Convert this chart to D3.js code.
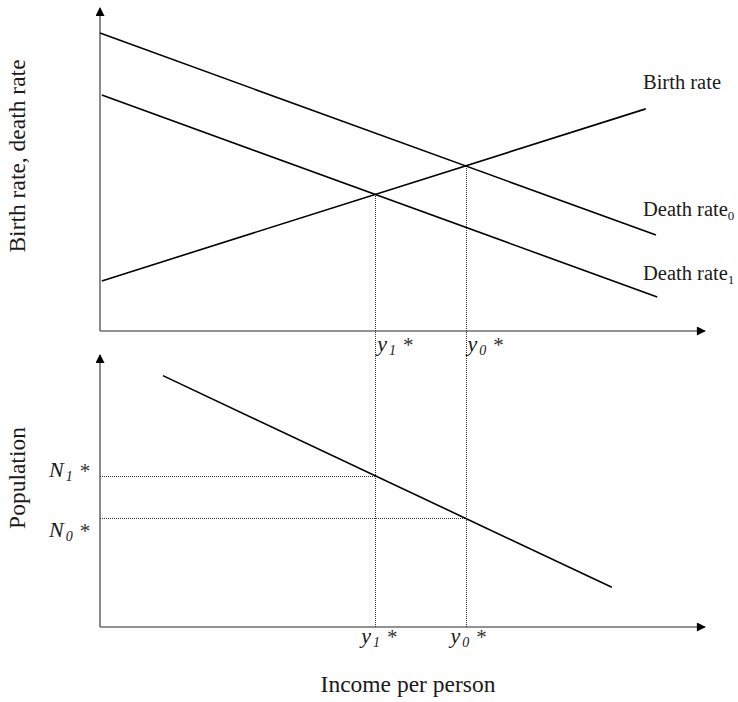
<!DOCTYPE html>
<html>
<head>
<meta charset="utf-8">
<script src="https://cdn.jsdelivr.net/npm/d3@7"></script>
<style>
  body { margin: 0; background: #fff; }
  svg text { font-family: "Liberation Serif", "DejaVu Serif", serif; fill: #1a1a1a; }
</style>
</head>
<body>
<svg id="chart" width="738" height="702"></svg>
<script>
// schematic values (arbitrary units 0-100)
const deathRate0 = [[0, 92.8], [91.9, 29.9]];
const deathRate1 = [[0.3, 73.5], [92.1, 10.6]];
const birthRate = [[0.3, 15.6], [90.2, 69.2]];
const population = [[10.4, 93.1], [84.6, 14.7]];

const lineLabels = [
    { text: "Birth rate", sub: "", line: birthRate, dy: -20 },
    { text: "Death rate", sub: "0", line: deathRate0, dy: -19 },
    { text: "Death rate", sub: "1", line: deathRate1, dy: -17 }
];

const svg = d3.select("#chart");

const x = d3.scaleLinear().domain([0, 100]).range([100, 705]);
const yTop = d3.scaleLinear().domain([0, 100]).range([331, 10]);
const yBot = d3.scaleLinear().domain([0, 100]).range([627, 357]);

// arrow head
svg.append("defs").append("marker")
    .attr("id", "arrow")
    .attr("viewBox", "0 0 10 10")
    .attr("refX", 9)
    .attr("refY", 5)
    .attr("markerUnits", "userSpaceOnUse")
    .attr("markerWidth", 11)
    .attr("markerHeight", 9)
    .attr("orient", "auto")
    .append("path")
    .attr("d", "M0,0L10,5L0,10Z")
    .attr("fill", "#000");

function lineAt(a, b) {
    // intersection of two straight lines given by two points each
    const s1 = (a[1][1] - a[0][1]) / (a[1][0] - a[0][0]);
    const s2 = (b[1][1] - b[0][1]) / (b[1][0] - b[0][0]);
    const c1 = a[0][1] - s1 * a[0][0];
    const c2 = b[0][1] - s2 * b[0][0];
    const xi = (c2 - c1) / (s1 - s2);
    return [xi, s1 * xi + c1];
}
function valueAt(l, xv) {
    const s = (l[1][1] - l[0][1]) / (l[1][0] - l[0][0]);
    return l[0][1] + s * (xv - l[0][0]);
}

const eq0 = lineAt(birthRate, deathRate0);
const eq1 = lineAt(birthRate, deathRate1);
const n0 = valueAt(population, eq0[0]);
const n1 = valueAt(population, eq1[0]);

// axes
function drawAxes(y) {
    svg.append("line")
        .attr("x1", x(0)).attr("y1", y(0))
        .attr("x2", x(100)).attr("y2", y(0))
        .attr("stroke", "#6e6e6e").attr("stroke-width", 1.6)
        .attr("marker-end", "url(#arrow)");
    svg.append("line")
        .attr("x1", x(0)).attr("y1", y(0))
        .attr("x2", x(0)).attr("y2", y(100) - 2)
        .attr("stroke", "#6e6e6e").attr("stroke-width", 1.6)
        .attr("marker-end", "url(#arrow)");
}
drawAxes(yTop);
drawAxes(yBot);

// dotted guides, snapped to the pixel grid so the dots stay crisp
const px = v => Math.round(v) + 0.5;
function guide(x1, y1, x2, y2) {
    svg.append("line")
        .attr("x1", x1).attr("y1", y1).attr("x2", x2).attr("y2", y2)
        .attr("stroke", "#333")
        .attr("stroke-width", 1)
        .attr("stroke-dasharray", "1,1")
        .attr("shape-rendering", "crispEdges");
}
[eq1, eq0].forEach(e => guide(px(x(e[0])), Math.round(yTop(e[1])), px(x(e[0])), Math.round(yBot(0))));
guide(Math.round(x(0)), px(yBot(n1)), Math.round(x(eq1[0])), px(yBot(n1)));
guide(Math.round(x(0)), px(yBot(n0)), Math.round(x(eq0[0])), px(yBot(n0)));

// curves
const lineTop = d3.line().x(d => x(d[0])).y(d => yTop(d[1]));
const lineBot = d3.line().x(d => x(d[0])).y(d => yBot(d[1]));

svg.selectAll(".rate")
    .data([deathRate0, deathRate1, birthRate])
    .enter().append("path")
    .attr("d", lineTop)
    .attr("fill", "none")
    .attr("stroke", "#000")
    .attr("stroke-width", 1.6);

svg.append("path")
    .attr("d", lineBot(population))
    .attr("fill", "none")
    .attr("stroke", "#000")
    .attr("stroke-width", 1.6);

// line labels
lineLabels.forEach(d => {
    const t = svg.append("text")
        .attr("x", 643)
        .attr("y", yTop(d.line[1][1]) + d.dy)
        .style("font-size", "20.5px")
        .text(d.text);
    if (d.sub) {
        t.append("tspan").attr("dy", 4).style("font-size", "13px").text(d.sub);
    }
});

// starred labels (italic with subscript)
function starLabel(xp, yp, base, sub, size) {
    const t = svg.append("text")
        .attr("x", xp).attr("y", yp)
        .style("font-style", "italic")
        .style("font-size", size + "px");
    t.append("tspan").text(base);
    t.append("tspan").attr("dx", 2).attr("dy", 4).style("font-size", "14px").text(sub);
    t.append("tspan").attr("dx", 7).attr("dy", -3).style("font-size", "21px")
        .style("font-style", "normal").style("fill", "#333").text("*");
}
starLabel(x(eq1[0]) + 2, yTop(0) + 20, "y", "1", 22);
starLabel(x(eq0[0]) + 2, yTop(0) + 20, "y", "0", 22);
starLabel(x(eq1[0]) - 14, yBot(0) + 16, "y", "1", 22);
starLabel(x(eq0[0]) - 15, yBot(0) + 16, "y", "0", 22);
starLabel(49, yBot(n1) + 1, "N", "1", 22);
starLabel(49, yBot(n0) + 19, "N", "0", 22);

// axis titles
svg.append("text")
    .attr("transform", "translate(25," + 156 + ") rotate(-90)")
    .attr("text-anchor", "middle")
    .style("font-size", "23.5px")
    .text("Birth rate, death rate");

svg.append("text")
    .attr("transform", "translate(25," + 478 + ") rotate(-90)")
    .attr("text-anchor", "middle")
    .style("font-size", "23.5px")
    .text("Population");

svg.append("text")
    .attr("x", 408)
    .attr("y", 692)
    .attr("text-anchor", "middle")
    .style("font-size", "23.5px")
    .text("Income per person");
</script>
</body>
</html>
